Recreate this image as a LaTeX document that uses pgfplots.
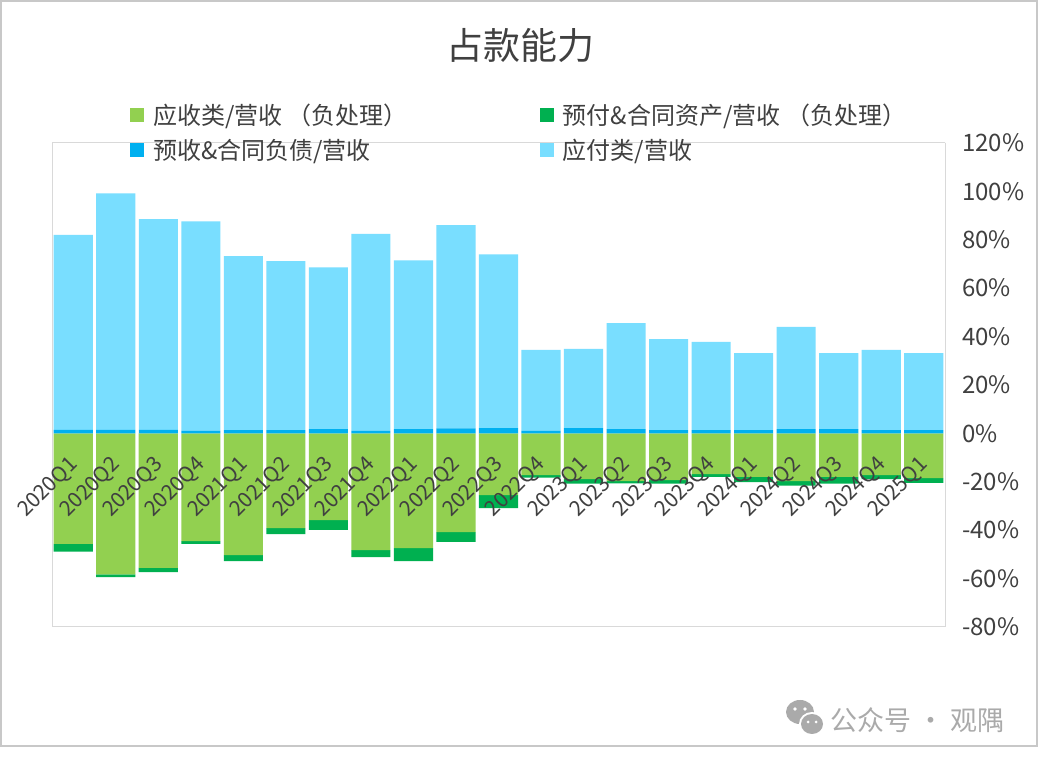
\documentclass[border=0pt]{standalone}
\usepackage{pgfplots}
\pgfplotsset{compat=1.18}
\usepackage{fontspec}
\setmainfont{Noto Sans CJK SC}
\definecolor{cAR}{RGB}{146,208,80}
\definecolor{cPP}{RGB}{0,176,80}
\definecolor{cAD}{RGB}{0,176,240}
\definecolor{cAP}{RGB}{121,222,255}
\definecolor{txt}{RGB}{64,64,64}
\definecolor{pframe}{RGB}{217,217,217}
\definecolor{oframe}{RGB}{200,200,200}
\definecolor{wm}{RGB}{170,170,170}
\pgfplotsset{
  sq legend/.style={legend image code/.code={\fill[##1] (0bp,-7bp) rectangle (14bp,7bp);}},
  common/.style={
    at={(52bp,138bp)}, anchor=south west, scale only axis,
    width=893bp, height=484bp,
    xmin=-0.5, xmax=20.5, ymin=-80, ymax=120,
    ybar stacked, bar width=0.92,
  }
}
\begin{document}
\begin{tikzpicture}
\useasboundingbox (0,0) rectangle (1038bp,765bp);
\fill[white] (0,0) rectangle (1038bp,765bp);
\draw[oframe, line width=2bp] (1bp,19bp) rectangle (1036.5bp,764bp);
\node[text=txt, font=\fontsize{37bp}{42bp}\selectfont] at (520bp,720bp) {占款能力};
% watermark
\fill[wm] (800bp,53bp) ellipse (14bp and 12bp);
\fill[white] (812bp,41bp) ellipse (13bp and 12bp);
\fill[wm] (812bp,41bp) ellipse (11bp and 10bp);
\fill[white] (795bp,56bp) circle (1.8bp) (805bp,56bp) circle (1.8bp) (808bp,43bp) circle (1.5bp) (816bp,43bp) circle (1.5bp);
\node[text=wm, font=\fontsize{27bp}{32bp}\selectfont, anchor=west, inner sep=0pt] at (830bp,45bp) {公众号 · 观隅};

\begin{axis}[common,
  axis on top,
  axis x line*=middle, axis y line*=right,
  axis line style={draw=pframe, line width=1bp},
  x axis line style={draw=none},
  major tick length=0pt,
  xtick={0,...,20},
  xticklabels={2020Q1,2020Q2,2020Q3,2020Q4,2021Q1,2021Q2,2021Q3,2021Q4,2022Q1,2022Q2,2022Q3,2022Q4,2023Q1,2023Q2,2023Q3,2023Q4,2024Q1,2024Q2,2024Q3,2024Q4,2025Q1},
  xticklabel style={font=\fontsize{21bp}{25bp}\selectfont, text=txt, inner sep=0pt, yshift=-21bp, xshift=-6bp, rotate=45, anchor=north east},
  ytick={-80,-60,-40,-20,0,20,40,60,80,100,120},
  yticklabels={-80\%,-60\%,-40\%,-20\%,0\%,20\%,40\%,60\%,80\%,100\%,120\%},
  yticklabel style={font=\fontsize{24bp}{28bp}\selectfont, text=txt, inner sep=0pt, anchor=west, xshift=17bp},
]
% 应收类/营收（负处理）
\addplot[fill=cAR, draw=none] coordinates {
(0,-45.7) (1,-58.3) (2,-55.6) (3,-44.5) (4,-50.3) (5,-39.1) (6,-35.8) (7,-48.2) (8,-47.4) (9,-40.8) (10,-25.5)
(11,-17.2) (12,-18.9) (13,-19.7) (14,-19.3) (15,-16.8) (16,-18.0) (17,-19.7) (18,-18.0) (19,-17.2) (20,-18.5)};
% 预付&合同资产/营收（负处理）
\addplot[fill=cPP, draw=none] coordinates {
(0,-3.2) (1,-1.1) (2,-1.7) (3,-1.2) (4,-2.5) (5,-2.5) (6,-4.1) (7,-2.9) (8,-5.4) (9,-4.0) (10,-5.4)
(11,-1.1) (12,-1.9) (13,-1.0) (14,-1.5) (15,-1.2) (16,-2.1) (17,-1.9) (18,-2.8) (19,-1.7) (20,-1.9)};
\draw[pframe, line width=1bp] (rel axis cs:0,0) rectangle (rel axis cs:1,1);
\end{axis}

\begin{axis}[common, hide axis,
  legend columns=2,
  legend cell align=left,
  legend style={at={(axis description cs:0.0873,1.082)}, anchor=north west,
    draw=none, fill=none, inner sep=0pt, text=txt,
    font=\fontsize{24bp}{28bp}\selectfont, row sep=14bp,
    nodes={inner sep=0pt},
    /tikz/every odd column/.style={column sep=9bp},
    /tikz/every even column/.style={column sep=132bp}},
]
\addlegendimage{sq legend, fill=cAR, draw=none}
\addlegendentry{应收类/营收 （负处理）}
\addlegendimage{sq legend, fill=cPP, draw=none}
\addlegendentry{预付\&合同资产/营收 （负处理）}
% 预收&合同负债/营收
\addplot[fill=cAD, draw=none, sq legend] coordinates {
(0,1.5) (1,1.5) (2,1.5) (3,1.0) (4,1.4) (5,1.4) (6,1.8) (7,1.0) (8,1.8) (9,2.1) (10,2.2)
(11,1.0) (12,2.2) (13,1.8) (14,1.4) (15,1.4) (16,1.4) (17,1.8) (18,1.8) (19,1.4) (20,1.4)};
\addlegendentry{预收\&合同负债/营收}
% 应付类/营收
\addplot[fill=cAP, draw=none, sq legend] coordinates {
(0,80.5) (1,97.7) (2,87.0) (3,86.6) (4,71.8) (5,69.8) (6,66.8) (7,81.4) (8,69.7) (9,84.0) (10,71.8)
(11,33.5) (12,32.7) (13,43.8) (14,37.6) (15,36.4) (16,31.8) (17,42.2) (18,31.4) (19,33.1) (20,31.8)};
\addlegendentry{应付类/营收}
\end{axis}
\end{tikzpicture}
\end{document}
